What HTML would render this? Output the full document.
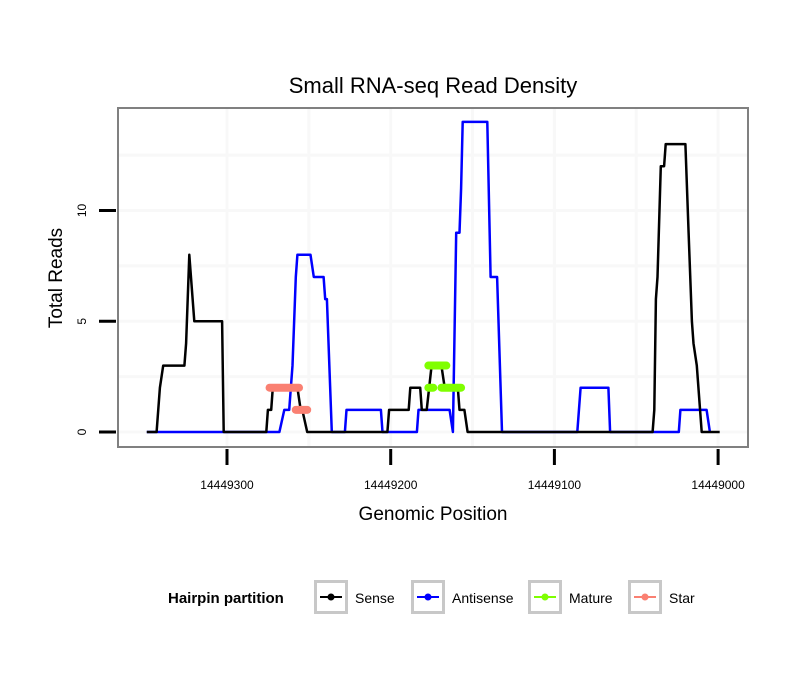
<!DOCTYPE html>
<html><head><meta charset="utf-8"><style>
body{margin:0;background:#fff;font-family:"Liberation Sans",sans-serif}
svg text{font-family:"Liberation Sans",sans-serif}
</style></head><body>
<svg id="chart" width="810" height="690" xmlns="http://www.w3.org/2000/svg">
<rect width="810" height="690" fill="#fff"/>
<text x="433" y="93" font-size="22" text-anchor="middle">Small RNA-seq Read Density</text>
<g id="grid"></g>
<g id="series"></g>
<rect x="118" y="108" width="630" height="339" fill="none" stroke="#808080" stroke-width="2"/>
<g id="axes"></g>
<text x="433" y="520" font-size="19" text-anchor="middle">Genomic Position</text>
<text transform="translate(62,278) rotate(-90)" font-size="19" text-anchor="middle">Total Reads</text>
<g id="legend">
<text x="168" y="603" font-size="15" font-weight="bold">Hairpin partition</text>
</g>
</svg>
<script>
const xTicks=[14449300,14449200,14449100,14449000];
const xTickLabels=["14449300","14449200","14449100","14449000"];
const yTicks=[0,5,10];
const yTickLabels=["0","5","10"];
const sensePos=[14449349,14449343,14449341,14449339,14449326,14449325,14449323,14449320,14449303,14449302,14449276,14449275,14449273,14449272,14449257,14449255,14449254,14449251,14449202,14449201,14449189,14449188,14449182,14449181,14449178,14449175,14449169,14449167,14449159,14449158,14449155,14449153,14449040,14449039,14449038,14449037,14449035,14449033,14449032,14449020,14449018,14449016,14449015,14449013,14449010,14448999];
const senseVal=[0,0,2,3,3,4,8,5,5,0,0,1,1,2,2,1,1,0,0,1,1,2,2,1,1,3,3,2,2,1,1,0,0,1,6,7,12,12,13,13,9,5,4,3,0,0];
const antiPos=[14449349,14449268,14449265,14449262,14449260,14449258,14449257,14449249,14449247,14449241,14449240,14449239,14449236,14449228,14449227,14449206,14449205,14449184,14449183,14449164,14449162,14449160,14449158,14449157,14449156,14449141,14449139,14449135,14449132,14449086,14449084,14449067,14449066,14449024,14449023,14449007,14449005];
const antiVal=[0,0,1,1,3,7,8,8,7,7,6,6,0,0,1,1,0,0,1,1,0,9,9,11,14,14,7,7,0,0,2,2,0,0,1,1,0];
const matureStart=[14449177,14449177,14449169];
const matureEnd=[14449166,14449174,14449157];
const matureVal=[3,2,2];
const starStart=[14449274,14449258];
const starEnd=[14449256,14449251];
const starVal=[2,1];
const legendLabels=["Sense","Antisense","Mature","Star"];
const legendColors=["#000000","#0000ff","#7fff00","#fa8072"];

const NS="http://www.w3.org/2000/svg";
const xS=p=>227+(14449300-p)*1.637;
const yS=v=>432-v*22.15;
function mk(tag,attrs,parent){const e=document.createElementNS(NS,tag);for(const k in attrs)e.setAttribute(k,attrs[k]);parent.appendChild(e);return e;}
const grid=document.getElementById('grid'),axes=document.getElementById('axes'),series=document.getElementById('series'),legend=document.getElementById('legend');
[0,2.5,5,7.5,10,12.5].forEach(v=>{const l=mk('line',{x1:119,x2:747,y1:yS(v),y2:yS(v),stroke:'#f8f8f8','stroke-width':3},grid);

});
[14449300,14449250,14449200,14449150,14449100,14449050,14449000].forEach(p=>{const x=xS(p);const l=mk('line',{x1:x,x2:x,y1:109,y2:446,stroke:'#f8f8f8','stroke-width':3},grid);

});
yTicks.forEach((v,i)=>{const t=mk('line',{x1:99,x2:116,y1:yS(v),y2:yS(v),stroke:'#000','stroke-width':3},axes);


const tx=mk('text',{transform:`translate(86,${yS(v)}) rotate(-90)`,'font-size':12,'text-anchor':'middle'},axes);tx.textContent=yTickLabels[i];

});
xTicks.forEach((p,i)=>{const t=mk('line',{x1:xS(p),x2:xS(p),y1:449,y2:465,stroke:'#000','stroke-width':3},axes);


const tx=mk('text',{x:xS(p),y:489,'font-size':12,'text-anchor':'middle'},axes);tx.textContent=xTickLabels[i];

});
function line(pos,val,col,name){const pts=pos.map((p,i)=>xS(p).toFixed(1)+','+yS(val[i]).toFixed(1)).join(' ');
const pl=mk('polyline',{points:pts,fill:'none',stroke:col,'stroke-width':2.5,'stroke-linejoin':'round'},series);

}
line(antiPos,antiVal,'#0000ff','antisense-line');
line(sensePos,senseVal,'#000000','sense-line');
function segs(s,e,v,col,name){s.forEach((p,i)=>{const l=mk('line',{x1:xS(p),x2:xS(e[i]),y1:yS(v[i]),y2:yS(v[i]),stroke:col,'stroke-width':8,'stroke-linecap':'round'},series);

});}
segs(starStart,starEnd,starVal,'#fa8072','star-segment');
segs(matureStart,matureEnd,matureVal,'#7fff00','mature-segment');
const boxX=[314,411,528,628],txtX=[355,452,569,669];
legendLabels.forEach((lab,i)=>{const g=mk('g',{},legend);


mk('rect',{x:boxX[i]+1.5,y:581.5,width:31,height:31,fill:'#fff',stroke:'#c8c8c8','stroke-width':3},g);
mk('line',{x1:boxX[i]+6,x2:boxX[i]+28,y1:597,y2:597,stroke:legendColors[i],'stroke-width':2},g);
mk('circle',{cx:boxX[i]+17,cy:597,r:3.5,fill:legendColors[i]},g);
const t=mk('text',{x:txtX[i],y:603,'font-size':14},g);t.textContent=lab;});
</script>
</body></html>
